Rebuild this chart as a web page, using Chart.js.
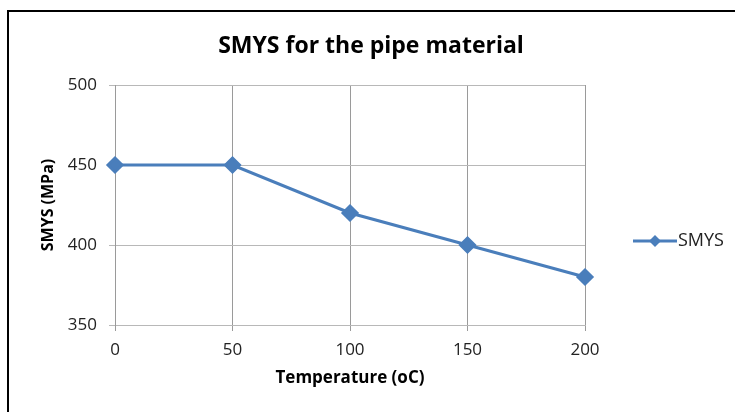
<!DOCTYPE html>
<html>
<head>
<meta charset="utf-8">
<title>SMYS for the pipe material</title>
<script src="https://cdn.jsdelivr.net/npm/chart.js@4"></script>
<style>
  html, body { margin: 0; padding: 0; background: #fff; }
  #wrap { width: 735px; height: 412px; }
</style>
</head>
<body>
<div id="wrap"><canvas id="smysChart" width="735" height="412"></canvas></div>
<script>
const temperatures = [0, 50, 100, 150, 200];
const smysValues = [450, 450, 420, 400, 380];
const seriesName = "SMYS";
const chartTitle = "SMYS for the pipe material";

const lineColor = "#4a7ebb";
const fontFamily = "'Open Sans', 'Noto Sans', sans-serif";

// white background plus the frame around the chart object
// (its right and bottom edges fall outside the canvas)
const framePlugin = {
  id: "frame",
  beforeDraw(chart) {
    const ctx = chart.ctx;
    ctx.save();
    ctx.fillStyle = "#fff";
    ctx.fillRect(0, 0, chart.width, chart.height);
    ctx.strokeStyle = "#000";
    ctx.lineWidth = 2;
    ctx.strokeRect(8, 11, chart.width + 20, chart.height + 20);
    ctx.restore();
  }
};

// title centred on the whole chart object, not only the plot + axes
const titlePlugin = {
  id: "wideTitle",
  afterDraw(chart, args, opts) {
    const ctx = chart.ctx;
    ctx.save();
    ctx.fillStyle = "#000";
    ctx.font = "bold 23px " + fontFamily;
    ctx.textAlign = "center";
    ctx.textBaseline = "alphabetic";
    ctx.fillText(opts.text, 371, 53);
    ctx.restore();
  }
};

// legend entry: line with a diamond marker, then the series name
const sideLegend = {
  id: "sideLegend",
  afterDraw(chart) {
    const ctx = chart.ctx;
    const ds = chart.data.datasets[0];
    const y = (chart.chartArea.top + chart.chartArea.bottom) / 2 + 36;
    const x0 = chart.chartArea.right + 48;
    ctx.save();
    ctx.strokeStyle = ds.borderColor;
    ctx.lineWidth = ds.borderWidth;
    ctx.beginPath();
    ctx.moveTo(x0, y);
    ctx.lineTo(x0 + 44, y);
    ctx.stroke();
    ctx.fillStyle = ds.pointBackgroundColor;
    ctx.beginPath();
    ctx.moveTo(x0 + 22, y - 6);
    ctx.lineTo(x0 + 28, y);
    ctx.lineTo(x0 + 22, y + 6);
    ctx.lineTo(x0 + 16, y);
    ctx.closePath();
    ctx.fill();
    ctx.fillStyle = "#222";
    ctx.font = "18px " + fontFamily;
    ctx.textAlign = "left";
    ctx.textBaseline = "middle";
    ctx.fillText(ds.label, x0 + 45, y);
    ctx.restore();
  }
};

const ctx = document.getElementById("smysChart").getContext("2d");
new Chart(ctx, {
  type: "line",
  data: {
    datasets: [{
      label: seriesName,
      data: temperatures.map((t, i) => ({ x: t, y: smysValues[i] })),
      borderColor: lineColor,
      backgroundColor: lineColor,
      pointBackgroundColor: lineColor,
      pointBorderColor: lineColor,
      borderWidth: 3,
      pointStyle: "rectRot",
      pointRadius: 7,
      pointHoverRadius: 7,
      tension: 0,
      clip: false
    }]
  },
  options: {
    responsive: false,
    animation: false,
    events: [],
    layout: { padding: { left: 0, right: 150, top: 85, bottom: 0 } },
    plugins: {
      legend: { display: false },
      tooltip: { enabled: false },
      title: { display: false },
      wideTitle: { text: chartTitle }
    },
    scales: {
      x: {
        type: "linear",
        min: 0,
        max: 200,
        afterFit(scale) { scale.height = 87; },
        ticks: {
          stepSize: 50,
          padding: 9,
          color: "#222",
          font: { family: fontFamily, size: 17 }
        },
        grid: { color: "#9a9a9a", tickLength: 6 },
        border: { color: "#b8b8b8" },
        title: {
          display: true,
          text: "Temperature (oC)",
          color: "#000",
          font: { family: fontFamily, size: 17, weight: "bold" },
          padding: { top: 0, bottom: 24 }
        }
      },
      y: {
        min: 350,
        max: 500,
        afterFit(scale) { scale.width = 115; },
        ticks: {
          stepSize: 50,
          padding: 12,
          color: "#222",
          font: { family: fontFamily, size: 17 }
        },
        grid: { color: "#b8b8b8", tickLength: 6 },
        border: { color: "#9a9a9a" },
        title: {
          display: true,
          text: "SMYS (MPa)",
          color: "#000",
          font: { family: fontFamily, size: 16, weight: "bold" },
          padding: { top: 39, bottom: 0 }
        }
      }
    }
  },
  plugins: [framePlugin, titlePlugin, sideLegend]
});
</script>
</body>
</html>
